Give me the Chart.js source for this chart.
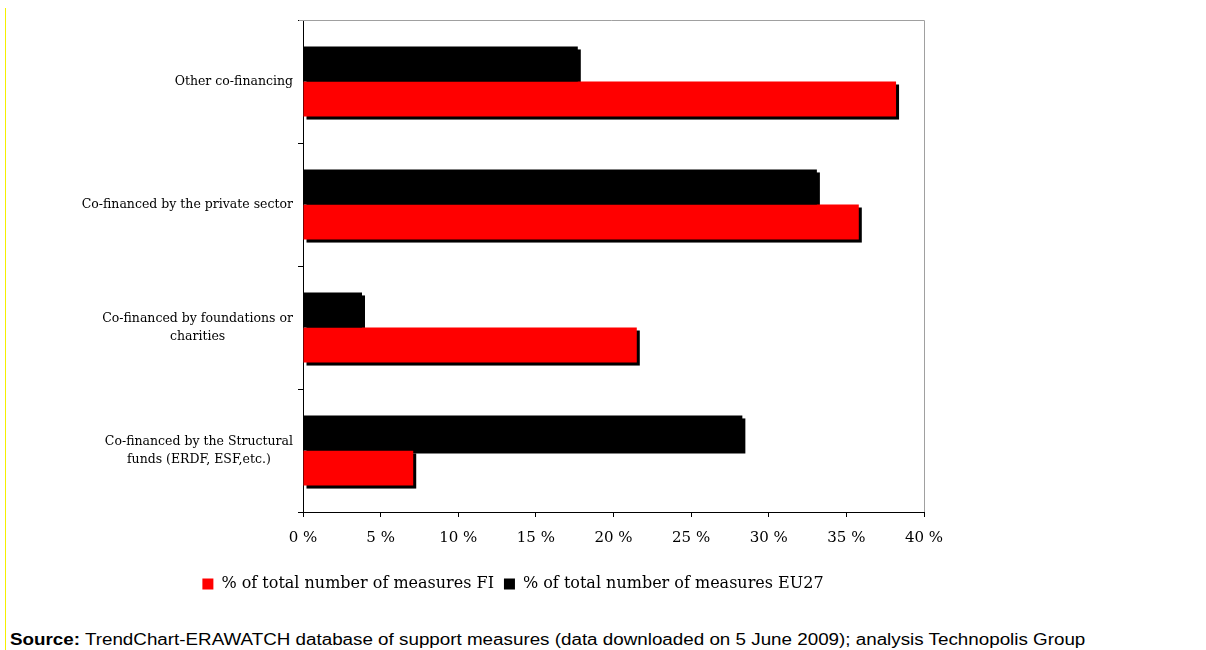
<!DOCTYPE html>
<html>
<head>
<meta charset="utf-8">
<script src="https://cdn.jsdelivr.net/npm/chart.js@4"></script>
<style>
  body { margin: 0; background: #fff; width: 1206px; height: 650px; position: relative; overflow: hidden; }
  #edge { position: absolute; left: 5px; top: 8px; width: 1px; height: 642px; background: #f4f000; }
  #box { position: absolute; left: 0; top: 0; width: 1206px; height: 610px; }
  #source { position: absolute; left: 10px; top: 631px; font: 16px "Liberation Sans", Arial, sans-serif; color: #000; white-space: nowrap; transform: scaleX(1.175); transform-origin: left center; }
</style>
</head>
<body>
<div id="edge"></div>
<div id="box"><canvas id="coFinanceChart"></canvas></div>
<div id="source"><b>Source:</b> TrendChart-ERAWATCH database of support measures (data downloaded on 5 June 2009); analysis Technopolis Group</div>
<script>
const categories = [
  ['Other co-financing'],
  ['Co-financed by the private sector'],
  ['Co-financed by foundations or', 'charities'],
  ['Co-financed by the Structural', 'funds (ERDF, ESF,etc.)']
];
const shareEU27 = [17.7, 33.1, 3.8, 28.3];
const shareFI = [38.2, 35.8, 21.5, 7.1];
const tickValues = [0, 5, 10, 15, 20, 25, 30, 35, 40];

const serif = '"DejaVu Serif", "Liberation Serif", serif';

// black drop shadow behind every bar, drawn before the bars themselves
const barShadow = {
  id: 'barShadow',
  beforeDatasetsDraw(chart) {
    const ctx = chart.ctx;
    ctx.save();
    ctx.fillStyle = '#000';
    chart.getSortedVisibleDatasetMetas().forEach(meta => {
      meta.data.forEach(bar => {
        const p = bar.getProps(['x', 'y', 'base', 'height'], true);
        const left = Math.min(p.base, p.x);
        const w = Math.abs(p.x - p.base);
        ctx.fillRect(left + 3, p.y - p.height / 2 + 3, w, p.height);
      });
    });
    ctx.restore();
  }
};

// gray frame on top and right of the plot area
const plotFrame = {
  id: 'plotFrame',
  afterDraw(chart) {
    const {ctx, chartArea: a} = chart;
    ctx.save();
    ctx.strokeStyle = '#a0a0a0';
    ctx.lineWidth = 1;
    ctx.beginPath();
    ctx.moveTo(a.left - 4, a.top + 0.5);
    ctx.lineTo(a.right + 0.5, a.top + 0.5);
    ctx.lineTo(a.right + 0.5, a.bottom);
    ctx.stroke();
    ctx.restore();
  }
};

// category labels: block right-aligned to the axis, lines centred in the block
const categoryLabels = {
  id: 'categoryLabels',
  afterDraw(chart) {
    const {ctx, chartArea: a} = chart;
    const yScale = chart.scales.y;
    ctx.save();
    ctx.font = '12.5px ' + serif;
    ctx.fillStyle = '#000';
    ctx.textAlign = 'center';
    ctx.textBaseline = 'middle';
    const lineH = 18;
    categories.forEach((lines, i) => {
      const widest = Math.max(...lines.map(t => ctx.measureText(t).width));
      const cx = a.left - 10 - widest / 2;
      const cy = yScale.getPixelForValue(i);
      lines.forEach((t, k) => {
        ctx.fillText(t, cx, cy + (k - (lines.length - 1) / 2) * lineH);
      });
    });
    ctx.restore();
  }
};

new Chart(document.getElementById('coFinanceChart'), {
  type: 'bar',
  data: {
    labels: categories,
    datasets: [
      {
        label: '% of total number of measures EU27',
        data: shareEU27,
        backgroundColor: '#000000',
        borderWidth: 0
      },
      {
        label: '% of total number of measures FI',
        data: shareFI,
        backgroundColor: '#ff0000',
        borderWidth: 0
      }
    ]
  },
  options: {
    indexAxis: 'y',
    responsive: true,
    maintainAspectRatio: false,
    animation: false,
    datasets: {
      bar: { categoryPercentage: 0.57, barPercentage: 1 }
    },
    layout: { padding: { left: 102, right: 282, top: 20, bottom: 8 } },
    scales: {
      x: {
        min: 0,
        max: 40,
        afterBuildTicks: s => { s.ticks = tickValues.map(v => ({ value: v })); },
        afterFit: s => { s.height = 54; },
        ticks: {
          callback: v => v + ' %',
          font: { family: serif, size: 15 },
          color: '#000',
          padding: 12,
          maxRotation: 0
        },
        grid: { drawOnChartArea: false, tickLength: 5, color: '#000' },
        border: { color: '#000', width: 1 }
      },
      y: {
        afterFit: s => { s.width = 201; },
        ticks: { display: false },
        grid: { drawOnChartArea: false, tickLength: 5, color: '#000', offset: true },
        border: { color: '#000', width: 1 }
      }
    },
    plugins: {
      legend: {
        position: 'bottom',
        reverse: true,
        labels: {
          boxWidth: 11,
          boxHeight: 11,
          padding: 10,
          color: '#000',
          font: { family: serif, size: 16 }
        }
      },
      tooltip: { enabled: false }
    }
  },
  plugins: [barShadow, plotFrame, categoryLabels]
});
</script>
</body>
</html>
